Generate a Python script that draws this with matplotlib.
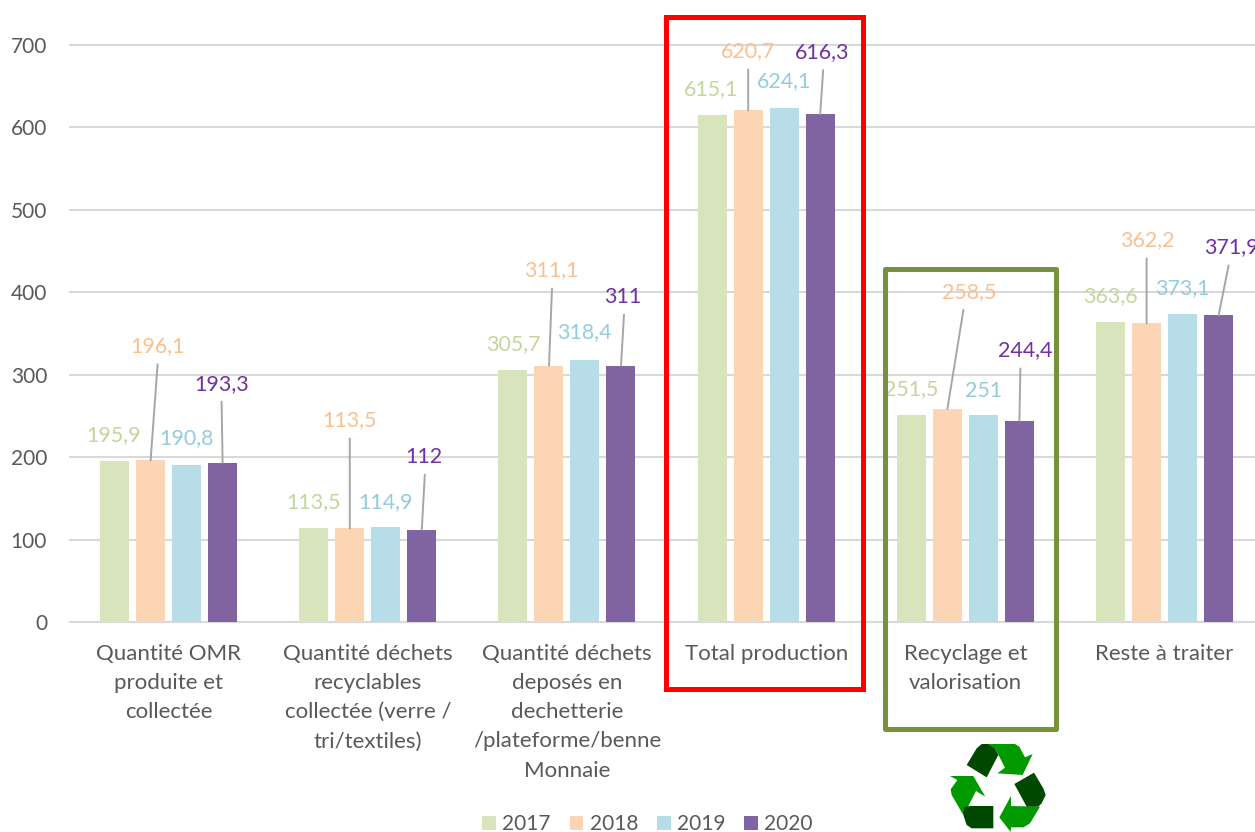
#!/usr/bin/env python3
"""
Waste quantities per category, 2017-2020, with highlight boxes and recycling icon.
"""

import matplotlib
matplotlib.use('Agg')
import matplotlib.pyplot as plt
from matplotlib.patches import Polygon, Rectangle

plt.rcParams['font.family'] = ['Lato', 'DejaVu Sans']

categories = [
    'Quantité OMR\nproduite et\ncollectée',
    'Quantité déchets\nrecyclables\ncollectée (verre /\ntri/textiles)',
    'Quantité déchets\ndeposés en\ndechetterie\n/plateforme/benne\nMonnaie',
    'Total production',
    'Recyclage et\nvalorisation',
    'Reste à traiter',
]
years = ['2017', '2018', '2019', '2020']
values_2017 = [195.9, 113.5, 305.7, 615.1, 251.5, 363.6]
values_2018 = [196.1, 113.5, 311.1, 620.7, 258.5, 362.2]
values_2019 = [190.8, 114.9, 318.4, 624.1, 251.0, 373.1]
values_2020 = [193.3, 112.0, 311.0, 616.3, 244.4, 371.9]
series = [values_2017, values_2018, values_2019, values_2020]

bar_colors = ['#d8e4bc', '#fcd5b5', '#b7dde8', '#8064a2']
label_colors = ['#c3d69b', '#fac090', '#92cddc', '#7030a0']
TEXT_GREY = '#595959'
FS_VALUE = 15.4
FS_CAT = 16
FS_TICK = 15

# label offsets from the bar top, in pixels: (dx, dy, leader top dx or None)
label_offsets = [
    [(-1, 25, None), (0, 26, None), (0, 26, None), (-1, 26, None), (0, 26, None), (0, 26, None)],
    [(7, 114, 7), (0, 108, 0), (2, 95, 3), (0, 59, 0), (22, 117, 16), (1, 83, 0)],
    [(0, 27, None), (0, 25, None), (-1, 27, None), (0, 26, None), (0, 24, None), (0, 26, None)],
    [(-1, 79, -1), (2, 73, 3), (2, 69, 3), (2, 62, 3), (6, 70, 1), (13, 68, 10)],
]

W, H = 1255, 832
LEFT, RIGHT, TOP, BOTTOM = 70, 1255, 45, 622
FIRST_CENTER = 168.6
PITCH = 199.2

fig = plt.figure(figsize=(W / 100, H / 100), dpi=100)
ax = fig.add_axes([LEFT / W, 1 - BOTTOM / H, (RIGHT - LEFT) / W, (BOTTOM - TOP) / H])

bar_step = 36.0 / PITCH
bar_width = 29.0 / PITCH
x_pos = list(range(len(categories)))

for i, (year, vals) in enumerate(zip(years, series)):
    xs = [x + (i - 1.5) * bar_step for x in x_pos]
    ax.bar(xs, vals, width=bar_width, color=bar_colors[i], label=year, zorder=3)
    for j, (x, v) in enumerate(zip(xs, vals)):
        v_label = f'{v:g}'.replace('.', ',')
        dx, dy, lead = label_offsets[i][j]
        ax.annotate(v_label, (x, v), xytext=(dx, dy), textcoords='offset pixels',
                    ha='center', va='center', fontsize=FS_VALUE, color=label_colors[i],
                    annotation_clip=False, zorder=5)
        if lead is not None:
            ax.annotate('', (x, v), xytext=(lead, dy - 18), textcoords='offset pixels',
                        arrowprops=dict(arrowstyle='-', color='#a6a6a6', lw=1.4,
                                        shrinkA=0, shrinkB=0),
                        annotation_clip=False, zorder=4)

ax.set_xlim(-(FIRST_CENTER - LEFT) / PITCH, (RIGHT - FIRST_CENTER) / PITCH)
ax.set_ylim(0, 700)
ax.set_yticks(range(0, 701, 100))
ax.set_xticks(x_pos)
ax.set_xticklabels(categories, fontsize=FS_CAT, color=TEXT_GREY, linespacing=1.58)
ax.tick_params(axis='x', length=0, pad=15.5)
ax.tick_params(axis='y', length=0, pad=16.5, labelsize=FS_TICK, labelcolor=TEXT_GREY)
ax.grid(axis='y', color='#d9d9d9', lw=1.5, zorder=0)
for line in ax.get_ygridlines():
    line.set_clip_on(False)
ax.set_axisbelow(True)
for side in ['top', 'right', 'left']:
    ax.spines[side].set_visible(False)
ax.spines['bottom'].set_color('#d9d9d9')
ax.spines['bottom'].set_linewidth(1.5)

fig.legend(loc='center', bbox_to_anchor=(647.5 / W, 1 - 824 / H), ncol=4, frameon=False,
           fontsize=FS_TICK, labelcolor=TEXT_GREY, handlelength=0.66, handleheight=0.66,
           handletextpad=0.3, columnspacing=0.9, borderpad=0)

# overlay in pixel coordinates for the highlight boxes and the icon
over = fig.add_axes([0, 0, 1, 1], facecolor='none')
over.set_xlim(0, W)
over.set_ylim(H, 0)
over.axis('off')
over.add_patch(Rectangle((666, 17), 197, 672, fill=False, ec='#ff0000', lw=3.6, joinstyle='miter'))
over.add_patch(Rectangle((885, 269), 171, 460, fill=False, ec='#76923c', lw=3.6, joinstyle='round'))

DARK = '#004800'
GREEN = '#009a00'
icon_parts = [
    (GREEN, [(265, 72), (345, 72), (358, 80), (375, 112), (398, 102), (368, 165), (292, 160),
             (315, 143), (285, 85)]),
    (GREEN, [(420, 260), (390, 310), (370, 322), (333, 322), (332, 336), (298, 292), (333, 228),
             (333, 258)]),
    (GREEN, [(150, 168), (220, 168), (256, 230), (228, 213), (205, 258), (190, 285), (155, 225),
             (152, 208), (172, 180)]),
    (DARK, [(200, 135), (230, 85), (245, 72), (265, 72), (285, 85), (295, 105), (260, 172)]),
    (DARK, [(343, 192), (402, 158), (430, 205), (437, 225), (425, 250), (415, 260), (380, 260)]),
    (DARK, [(192, 262), (210, 258), (280, 258), (280, 325), (215, 325), (200, 315), (190, 285)]),
]
for color, pts in icon_parts:
    over.add_patch(Polygon([(900 + px / 3, 720 + py / 3) for px, py in pts],
                           closed=True, fc=color, ec='none'))

fig.savefig('out.png', dpi=100)
